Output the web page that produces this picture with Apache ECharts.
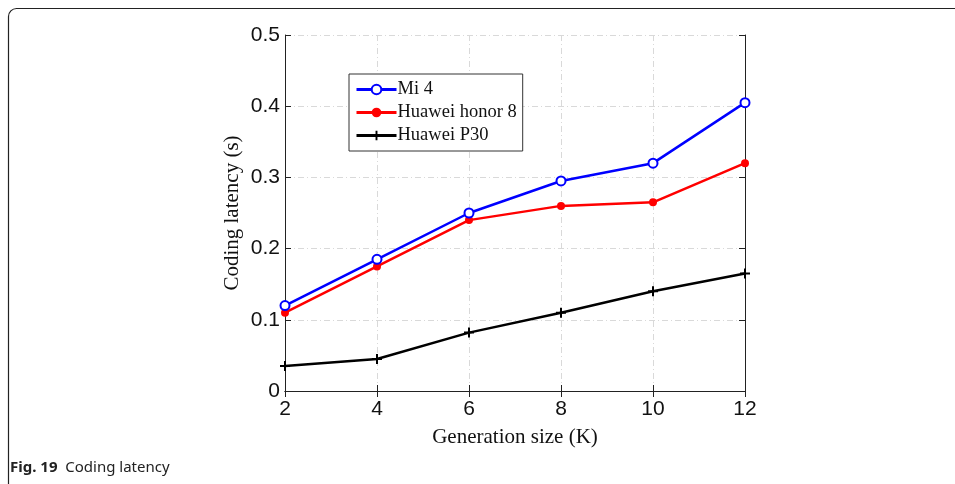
<!DOCTYPE html>
<html>
<head>
<meta charset="utf-8">
<script src="https://cdn.jsdelivr.net/npm/echarts@6/dist/echarts.min.js"></script>
<style>
  html, body { margin: 0; padding: 0; background: #fff; }
  #chart { width: 955px; height: 484px; }
</style>
</head>
<body>
<div id="chart"></div>
<script>
const sizes = [2, 4, 6, 8, 10, 12];
const mi4 = [0.12, 0.185, 0.25, 0.295, 0.32, 0.405];
const honor8 = [0.11, 0.175, 0.24, 0.26, 0.265, 0.32];
const p30 = [0.035, 0.045, 0.082, 0.11, 0.14, 0.165];

const plusIcon = 'path://M4,0 L6,0 L6,4 L10,4 L10,6 L6,6 L6,10 L4,10 L4,6 L0,6 L0,4 L4,4 Z';

function pairs(arr) {
  return arr.map((v, i) => [sizes[i], v]);
}

const myChart = echarts.init(document.getElementById('chart'));

const gridLine = { show: true, lineStyle: { color: '#d9d9d9', type: [6, 3, 1, 3], width: 1 } };
const tickIn = { show: true, inside: true, length: 6, lineStyle: { color: '#222' } };
const axisLine = { show: true, lineStyle: { color: '#222', width: 1 } };
const tickFont = { fontFamily: 'Liberation Sans, Arial, sans-serif', fontSize: 21, color: '#111' };

myChart.setOption({
  animation: false,
  grid: { left: 285, right: 210, top: 35, bottom: 93 },
  legend: {
    orient: 'vertical',
    left: 349,
    top: 74,
    padding: [6, 6, 6, 6],
    itemGap: 4,
    itemWidth: 40,
    itemHeight: 12,
    borderColor: '#333',
    borderWidth: 1,
    backgroundColor: '#fff',
    lineStyle: { width: 3 },
    textStyle: { fontFamily: 'Liberation Serif, Times New Roman, serif', fontSize: 18.5, color: '#111', padding: [0, 0, 0, -4] },
    data: ['Mi 4', 'Huawei honor 8', 'Huawei P30'],
  },
  xAxis: [
    {
      type: 'value',
      min: 2,
      max: 12,
      interval: 2,
      name: 'Generation size (K)',
      nameLocation: 'middle',
      nameGap: 36,
      nameTextStyle: { fontFamily: 'Liberation Serif, Times New Roman, serif', fontSize: 21, color: '#111' },
      axisLine,
      axisTick: tickIn,
      splitLine: gridLine,
      axisLabel: Object.assign({ margin: 8 }, tickFont),
    },
    {
      type: 'value',
      position: 'top',
      min: 2,
      max: 12,
      interval: 2,
      axisLine,
      axisTick: tickIn,
      splitLine: { show: false },
      axisLabel: { show: false },
    },
  ],
  yAxis: [
    {
      type: 'value',
      min: 0,
      max: 0.5,
      interval: 0.1,
      name: 'Coding latency (s)',
      nameLocation: 'middle',
      nameGap: 42,
      nameTextStyle: { fontFamily: 'Liberation Serif, Times New Roman, serif', fontSize: 21, color: '#111' },
      axisLine,
      axisTick: tickIn,
      splitLine: gridLine,
      axisLabel: Object.assign({ margin: 5, formatter: (v) => (v === 0 ? '0' : String(v)) }, tickFont),
    },
    {
      type: 'value',
      position: 'right',
      min: 0,
      max: 0.5,
      interval: 0.1,
      axisLine,
      axisTick: tickIn,
      splitLine: { show: false },
      axisLabel: { show: false },
    },
  ],
  series: [
    {
      name: 'Mi 4',
      type: 'line',
      data: pairs(mi4),
      symbol: 'emptyCircle',
      symbolSize: 9,
      color: '#0000ff',
      lineStyle: { width: 2.5, color: '#0000ff' },
      itemStyle: { color: '#0000ff', borderColor: '#0000ff', borderWidth: 2 },
      z: 4,
    },
    {
      name: 'Huawei honor 8',
      type: 'line',
      data: pairs(honor8),
      symbol: 'circle',
      symbolSize: 8,
      color: '#ff0000',
      lineStyle: { width: 2.5, color: '#ff0000' },
      itemStyle: { color: '#ff0000' },
      z: 3,
    },
    {
      name: 'Huawei P30',
      type: 'line',
      data: pairs(p30),
      symbol: plusIcon,
      symbolSize: 10,
      color: '#000',
      lineStyle: { width: 2.5, color: '#000' },
      itemStyle: { color: '#000' },
      z: 2,
    },
  ],
  graphic: [
    {
      type: 'rect',
      shape: { x: 8.5, y: 8.5, width: 960, height: 500, r: 8 },
      style: { fill: 'none', stroke: '#222', lineWidth: 1.2 },
      silent: true,
      z: -1,
    },
    {
      type: 'text',
      left: 10,
      top: 460,
      style: {
        text: '{b|Fig. 19}  Coding latency',
        font: '15px "Noto Sans", "Open Sans", sans-serif',
        fill: '#222',
        rich: {
          b: { font: 'bold 15px "Noto Sans", "Open Sans", sans-serif', fill: '#222' },
        },
      },
    },
  ],
});
</script>
</body>
</html>
